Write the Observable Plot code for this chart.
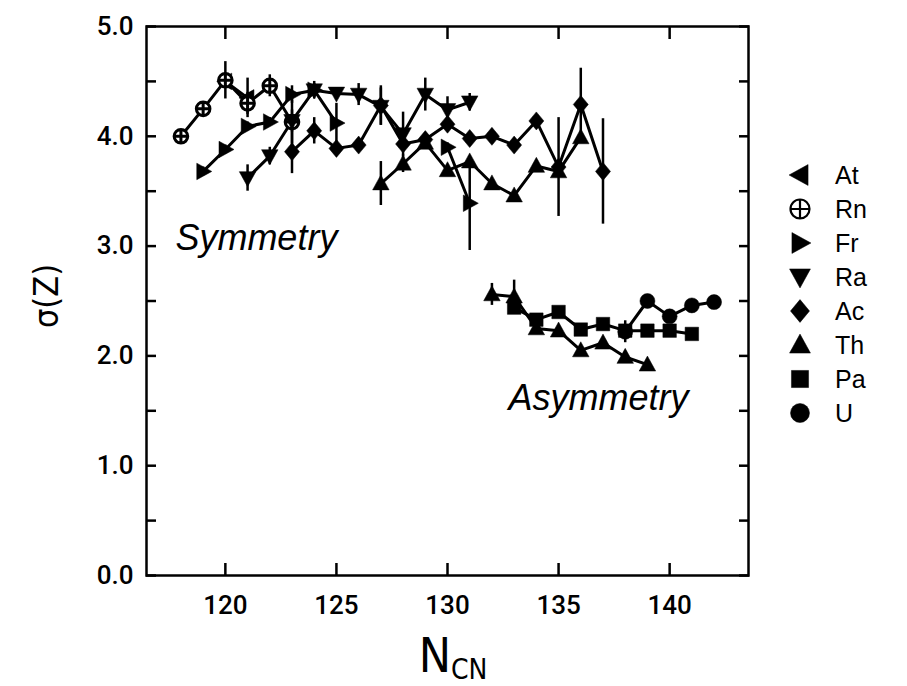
<!DOCTYPE html>
<html>
<head>
<meta charset="utf-8">
<script src="https://cdn.jsdelivr.net/npm/d3@7"></script>
<script src="https://cdn.jsdelivr.net/npm/@observablehq/plot@0.6"></script>
<style>
  body { margin: 0; background: #fff; }
  #fig { position: relative; width: 907px; height: 686px; }
  #legend { position: absolute; left: 780px; top: 158px; font-family: "Liberation Sans", Arial, sans-serif; }
  .row { display: flex; align-items: center; height: 34px; }
  .row svg { width: 40px; height: 34px; display: block; }
  .row span { font-size: 25px; margin-left: 15px; line-height: 34px; }
</style>
</head>
<body>
<div id="fig"><div id="legend"></div></div>
<script>
// Width of the Z distribution vs. compound-nucleus neutron number
const elements = ["At", "Rn", "Fr", "Ra", "Ac", "Th", "Pa", "U"];

// symmetric fission
const atN = [120, 121];
const atSigma = [4.50, 4.35];
const atErr = [0, 0.18];

const rnN = [118, 119, 120, 121, 122, 123];
const rnSigma = [4.00, 4.25, 4.51, 4.30, 4.46, 4.13];
const rnErr = [0.03, 0.03, 0.17, 0.10, 0.10, 0.20];

const frN = [119, 120, 121, 122, 123, 124, 125];
const frSigma = [3.68, 3.88, 4.09, 4.13, 4.38, 4.42, 4.12];
const frErr = [0.04, 0.04, 0.04, 0.04, 0.08, 0.06, 0.18];

const frN2 = [130, 131];
const frSigma2 = [3.90, 3.39];
const frErr2 = [0.04, 0.43];

const raN = [121, 122, 123, 124, 125, 126, 127, 128, 129, 130, 131];
const raSigma = [3.62, 3.82, 4.14, 4.42, 4.39, 4.38, 4.27, 4.02, 4.38, 4.24, 4.31];
const raErr = [0.12, 0.08, 0.10, 0.08, 0.04, 0.10, 0.17, 0.20, 0.15, 0.12, 0.08];

const acN = [123, 124, 125, 126, 127, 128, 129, 130, 131, 132, 133, 134, 135, 136, 137];
const acSigma = [3.86, 4.05, 3.89, 3.92, 4.28, 3.93, 3.97, 4.11, 3.98, 4.00, 3.92, 4.14, 3.72, 4.29, 3.68];
const acErr = [0.20, 0.12, 0.04, 0.04, 0.18, 0.04, 0.04, 0.04, 0.04, 0.03, 0.03, 0.05, 0.45, 0.33, 0.48];

const thN = [127, 128, 129, 130, 131, 132, 133, 134, 135, 136];
const thSigma = [3.57, 3.75, 3.94, 3.69, 3.77, 3.57, 3.46, 3.73, 3.68, 3.99];
const thErr = [0.20, 0.08, 0.05, 0.04, 0.04, 0.03, 0.03, 0.05, 0.05, 0.05];

// asymmetric fission
const thAsymN = [132, 133, 134, 135, 136, 137, 138, 139];
const thAsymSigma = [2.56, 2.54, 2.25, 2.23, 2.05, 2.12, 1.99, 1.92];
const thAsymErr = [0.10, 0.15, 0.04, 0.03, 0.03, 0.03, 0.03, 0.03];

const paN = [133, 134, 135, 136, 137, 138, 139, 140, 141];
const paSigma = [2.44, 2.33, 2.40, 2.24, 2.29, 2.23, 2.23, 2.23, 2.20];
const paErr = [0.03, 0.03, 0.03, 0.03, 0.03, 0.03, 0.03, 0.03, 0.03];

const uN = [138, 139, 140, 141, 142];
const uSigma = [2.22, 2.50, 2.36, 2.46, 2.49];
const uErr = [0.10, 0.03, 0.03, 0.03, 0.03];

const xTicks = [120, 125, 130, 135, 140];
const yMajor = [0, 1, 2, 3, 4, 5];
const yMinor = [0.5, 1.5, 2.5, 3.5, 4.5];

// marker shapes (d3-symbol style: draw(context, area))
const rad = s => Math.sqrt(s / Math.PI);
const symbols = {
  At: {draw(c, s) { const r = rad(s); c.moveTo(-1.15 * r, 0); c.lineTo(0.85 * r, -1.1 * r); c.lineTo(0.85 * r, 1.1 * r); c.closePath(); }},
  Rn: {draw(c, s) { const r = rad(s); c.moveTo(r, 0); c.arc(0, 0, r, 0, 2 * Math.PI); c.moveTo(-r, 0); c.lineTo(r, 0); c.moveTo(0, -r); c.lineTo(0, r); }},
  Fr: {draw(c, s) { const r = rad(s); c.moveTo(1.15 * r, 0); c.lineTo(-0.85 * r, -1.1 * r); c.lineTo(-0.85 * r, 1.1 * r); c.closePath(); }},
  Ra: {draw(c, s) { const r = rad(s); c.moveTo(0, 1.15 * r); c.lineTo(1.1 * r, -0.85 * r); c.lineTo(-1.1 * r, -0.85 * r); c.closePath(); }},
  Ac: {draw(c, s) { const r = rad(s); c.moveTo(0, -1.2 * r); c.lineTo(r, 0); c.lineTo(0, 1.2 * r); c.lineTo(-r, 0); c.closePath(); }},
  Th: {draw(c, s) { const r = rad(s); c.moveTo(0, -1.15 * r); c.lineTo(1.1 * r, 0.85 * r); c.lineTo(-1.1 * r, 0.85 * r); c.closePath(); }},
  Pa: {draw(c, s) { const r = rad(s) * 0.9; c.rect(-r, -r, 2 * r, 2 * r); }},
  U:  {draw(c, s) { const r = rad(s); c.moveTo(r, 0); c.arc(0, 0, r, 0, 2 * Math.PI); }}
};

const rows = (el, group, N, S, E) => N.map((n, i) => ({el, group, n, s: S[i], err: E[i]}));
const series = [
  rows("At", "At", atN, atSigma, atErr),
  rows("Rn", "Rn", rnN, rnSigma, rnErr),
  rows("Fr", "Fr", frN, frSigma, frErr),
  rows("Fr", "Fr2", frN2, frSigma2, frErr2),
  rows("Ra", "Ra", raN, raSigma, raErr),
  rows("Ac", "Ac", acN, acSigma, acErr),
  rows("Th", "Th", thN, thSigma, thErr),
  rows("Th", "ThAsym", thAsymN, thAsymSigma, thAsymErr),
  rows("Pa", "Pa", paN, paSigma, paErr),
  rows("U", "U", uN, uSigma, uErr)
];
const all = series.flat();

const tickFont = "Roboto, 'Liberation Sans', sans-serif";
const titleFont = "'DejaVu Sans Condensed', 'Liberation Sans', sans-serif";

const chart = Plot.plot({
  width: 907,
  height: 686,
  marginLeft: 146,
  marginRight: 159,
  marginTop: 26,
  marginBottom: 111,
  x: {domain: [116.45, 143.55]},
  y: {domain: [0, 5]},
  style: {fontFamily: tickFont, fontWeight: 500, color: "black", background: "white"},
  marks: [
    Plot.frame({stroke: "black", strokeWidth: 2.5}),
    Plot.axisX(xTicks, {anchor: "bottom", tickSize: -12, tickPadding: 32, strokeWidth: 2.5, fontSize: 26, tickFormat: d => String(d), label: null}),
    Plot.axisX(xTicks, {anchor: "top", tickSize: -12, strokeWidth: 2.5, fill: "none", label: null}),
    Plot.axisY(yMajor, {anchor: "left", tickSize: -10, tickPadding: 23, strokeWidth: 2.5, fontSize: 26, tickFormat: d => d.toFixed(1), label: null}),
    Plot.axisY(yMinor, {anchor: "left", tickSize: -10, strokeWidth: 2.5, fill: "none", label: null}),
    Plot.axisY([...yMajor, ...yMinor], {anchor: "right", tickSize: -10, strokeWidth: 2.5, fill: "none", label: null}),
    Plot.ruleX(all.filter(d => d.err > 0), {x: "n", y1: d => d.s - d.err, y2: d => d.s + d.err, stroke: "black", strokeWidth: 2.5}),
    ...series.map(data => Plot.line(data, {x: "n", y: "s", stroke: "black", strokeWidth: 3})),
    ...series.map(data => {
      const el = data[0].el;
      const open = el === "Rn";
      return Plot.dot(data, {
        x: "n", y: "s", r: open ? 6.8 : 7.5, symbol: symbols[el],
        fill: open ? "white" : "black", stroke: "black", strokeWidth: open ? 3 : 0.5
      });
    }),
    Plot.text(["Symmetry"], {x: [117.75], y: [3.07], text: d => d, textAnchor: "start", fontStyle: "italic", fontWeight: "normal", fontSize: 36, fontFamily: "'Liberation Sans', Arial, sans-serif"}),
    Plot.text(["Asymmetry"], {x: [132.75], y: [1.61], text: d => d, textAnchor: "start", fontStyle: "italic", fontWeight: "normal", fontSize: 36, fontFamily: "'Liberation Sans', Arial, sans-serif"})
  ]
});

// axis titles with subscripts and Greek letters
const svg = d3.select(chart);
const xt = svg.append("text")
  .attr("x", 453).attr("y", 672)
  .attr("text-anchor", "middle")
  .attr("font-family", titleFont)
  .attr("font-weight", "normal")
  .attr("fill", "black");
xt.append("tspan").attr("font-size", 48).text("N");
xt.append("tspan").attr("font-size", 28).attr("dy", 7).text("CN");

svg.append("text")
  .attr("transform", "translate(58,296) rotate(-90)")
  .attr("text-anchor", "middle")
  .attr("font-family", titleFont)
  .attr("font-weight", "normal")
  .attr("font-size", 34)
  .attr("fill", "black")
  .text("σ(Z)");

document.getElementById("fig").prepend(chart);

// legend: symbol + element name
const legend = d3.select("#legend");
for (const el of elements) {
  const row = legend.append("div").attr("class", "row");
  const s = row.append("svg");
  const p = d3.path();
  symbols[el].draw(p, 9.5 * 9.5 * Math.PI);
  s.append("path")
    .attr("transform", "translate(20,17)")
    .attr("d", p.toString())
    .attr("fill", el === "Rn" ? "white" : "black")
    .attr("stroke", "black")
    .attr("stroke-width", el === "Rn" ? 2.2 : 0.5);
  row.append("span").text(el);
}
</script>
</body>
</html>
